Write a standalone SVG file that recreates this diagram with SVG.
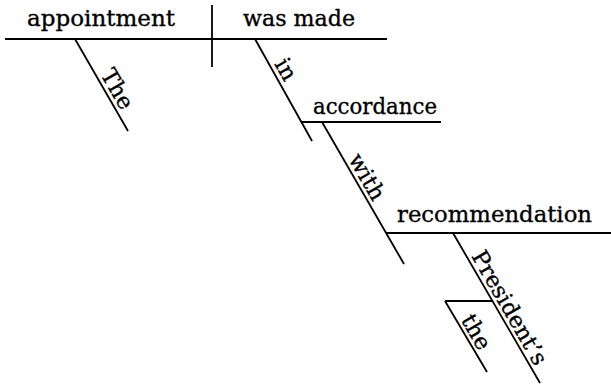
<svg xmlns="http://www.w3.org/2000/svg" width="611" height="387" viewBox="0 0 611 387">
<style>
.l{stroke:#000;stroke-width:1.8;fill:none;stroke-linecap:butt}
text{font-family:"DejaVu Serif","Liberation Serif",serif;font-size:22.5px;fill:#000;stroke:#000;stroke-width:0.35}
</style>
<rect width="611" height="387" fill="#fff"/>
<g id="lines">
<line class="l" x1="5" y1="39" x2="387" y2="39"/>
<line class="l" x1="212" y1="5" x2="212" y2="67"/>
<line class="l" x1="75" y1="39" x2="128" y2="131"/>
<line class="l" x1="255" y1="39" x2="312" y2="141"/>
<line class="l" x1="302" y1="122" x2="441" y2="122"/>
<line class="l" x1="322" y1="122" x2="404" y2="264"/>
<line class="l" x1="386" y1="233" x2="611" y2="233"/>
<line class="l" x1="453" y1="233" x2="540" y2="383"/>
<line class="l" x1="445" y1="301" x2="492" y2="301"/>
<line class="l" x1="445" y1="301" x2="487" y2="372"/>
</g>
<g id="words">
<text x="27" y="26" textLength="148" lengthAdjust="spacingAndGlyphs">appointment</text>
<text x="243" y="26" textLength="112" lengthAdjust="spacingAndGlyphs">was made</text>
<text x="313" y="114" textLength="124" lengthAdjust="spacingAndGlyphs">accordance</text>
<text x="397" y="222" textLength="195" lengthAdjust="spacingAndGlyphs">recommendation</text>
<text transform="translate(75,39) rotate(60)" x="43" y="-4">The</text>
<text transform="translate(255,39) rotate(60)" x="31" y="-4">in</text>
<text transform="translate(322,122) rotate(60)" x="45" y="-4">with</text>
<text transform="translate(453,233) rotate(60)" x="29" y="-4">President’s</text>
<text transform="translate(445,301) rotate(60)" x="24" y="-4">the</text>
</g>
</svg>
